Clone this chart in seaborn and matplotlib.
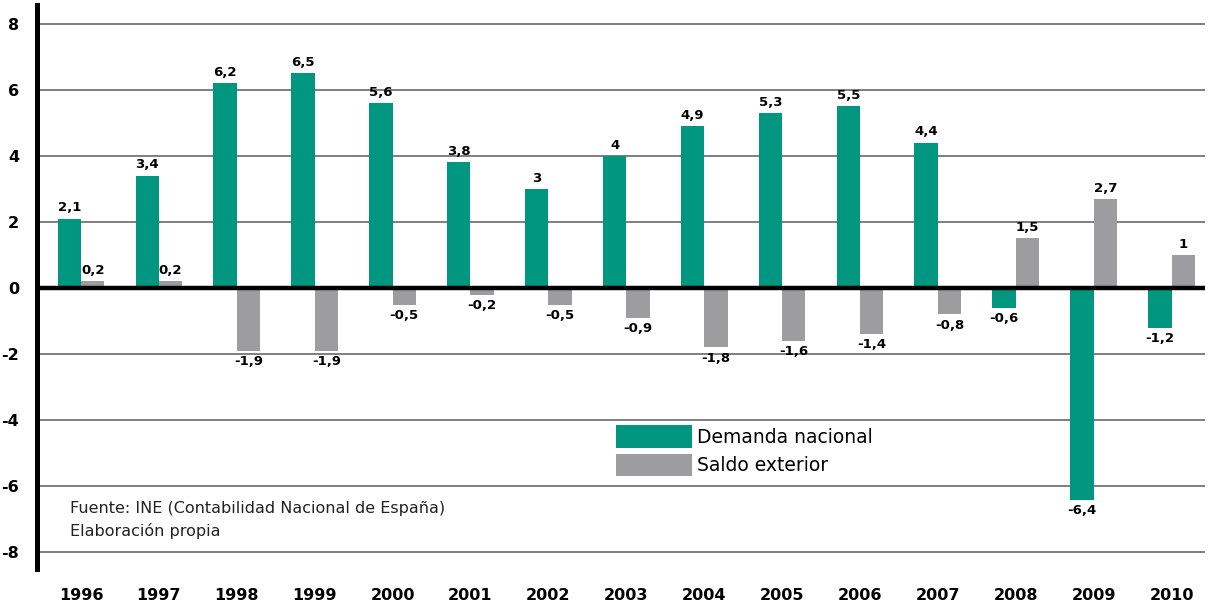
import matplotlib
matplotlib.use("Agg")
import matplotlib.pyplot as plt
from matplotlib.patches import Patch
import seaborn as sns
import pandas as pd

years = ["1996", "1997", "1998", "1999", "2000", "2001", "2002", "2003",
         "2004", "2005", "2006", "2007", "2008", "2009", "2010"]
demanda = [2.1, 3.4, 6.2, 6.5, 5.6, 3.8, 3.0, 4.0, 4.9, 5.3, 5.5, 4.4, -0.6, -6.4, -1.2]
saldo = [0.2, 0.2, -1.9, -1.9, -0.5, -0.2, -0.5, -0.9, -1.8, -1.6, -1.4, -0.8, 1.5, 2.7, 1.0]
series = ["Demanda nacional", "Saldo exterior"]
colors = ["#009680", "#9d9d9f"]
yticks = [-8, -6, -4, -2, 0, 2, 4, 6, 8]

df = pd.DataFrame({
    "year": years * 2,
    "value": demanda + saldo,
    "serie": [series[0]] * len(years) + [series[1]] * len(years),
})

sns.set_theme(style="white")
plt.rcParams["font.family"] = ["DejaVu Sans"]
plt.rcParams["text.color"] = "black"
plt.rcParams["xtick.color"] = "black"
plt.rcParams["ytick.color"] = "black"

fig = plt.figure(figsize=(12.1, 6.05), dpi=100)
ax = fig.add_axes([37 / 1210, 1 - 569 / 605, (1205 - 37) / 1210, (569 - 5) / 605])

sns.barplot(data=df, x="year", y="value", hue="serie", palette=colors,
            width=0.6, gap=0, saturation=1, ax=ax, zorder=3, legend=False)

for c in ax.containers:
    for p in c.patches:
        p.set_linewidth(0)

def fmt(v):
    s = f"{v:.1f}".replace(".", ",")
    if s.endswith(",0"):
        s = s[:-2]
    return s

for c, vals in zip(ax.containers, [demanda, saldo]):
    ax.bar_label(c, labels=[fmt(v) for v in vals], padding=3,
                 fontsize=9.5, fontweight="bold", color="black")

ax.set_ylim(-8.5, 8.56)
ax.set_xlim(-0.565, 14.43)
ax.set_yticks(yticks)
ax.set_yticklabels([str(t) for t in yticks], fontsize=11.5, fontweight="bold")
ax.set_xticks(range(len(years)))
ax.set_xticklabels(years, fontsize=11.5, fontweight="bold")
ax.tick_params(axis="x", length=0, pad=14)
ax.tick_params(axis="y", length=0, pad=13)
ax.set_xlabel("")
ax.set_ylabel("")

for t in yticks:
    if t != 0:
        ax.axhline(t, color="#6a6a6a", lw=1.2, zorder=1)
ax.axhline(0, color="black", lw=3.2, zorder=5)

for s in ["top", "right", "bottom"]:
    ax.spines[s].set_visible(False)
ax.spines["left"].set_color("black")
ax.spines["left"].set_linewidth(3.6)

handles = [Patch(facecolor=c, edgecolor="none") for c in colors]
leg = ax.legend(handles, series, loc="upper left",
                bbox_to_anchor=(616 / 1210, 1 - 425 / 605),
                bbox_transform=fig.transFigure, frameon=False,
                prop={"size": 13.5, "weight": "medium"},
                handlelength=4.05, handleheight=1.5, handletextpad=0.25,
                labelspacing=0.3, borderpad=0, borderaxespad=0)
for t in leg.get_texts():
    t.set_color("black")

fig.text(70 / 1210, 1 - 508 / 605, "Fuente: INE (Contabilidad Nacional de España)",
         fontsize=11.5, va="center", ha="left", color="#222222")
fig.text(70 / 1210, 1 - 531 / 605, "Elaboración propia",
         fontsize=11.5, va="center", ha="left", color="#222222")

fig.savefig("out.png", dpi=100)
